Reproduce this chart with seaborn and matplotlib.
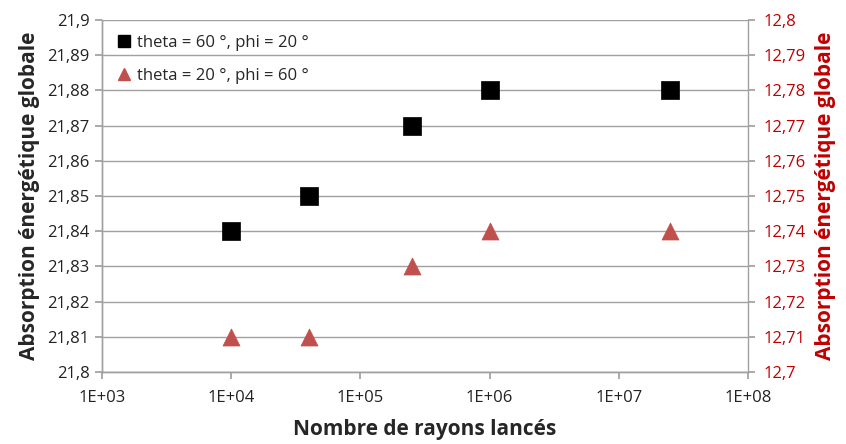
import matplotlib.pyplot as plt
import matplotlib.ticker as mticker
import pandas as pd
import seaborn as sns

# Données
nb_rayons = [1e4, 4e4, 2.5e5, 1e6, 2.5e7]
absorption_t60 = [21.84, 21.85, 21.87, 21.88, 21.88]
absorption_t20 = [12.71, 12.71, 12.73, 12.74, 12.74]

label_t60 = "theta = 60 °, phi = 20 °"
label_t20 = "theta = 20 °, phi = 60 °"
x_ticks = [1e3, 1e4, 1e5, 1e6, 1e7, 1e8]
x_tick_labels = ["1E+03", "1E+04", "1E+05", "1E+06", "1E+07", "1E+08"]

GRIS = "#a0a0a0"
ROUGE_TXT = "#c00000"
ROUGE_PT = "#c0504d"

sns.set_theme(style="white")
plt.rcParams["font.family"] = ["Open Sans", "DejaVu Sans"]

df_t60 = pd.DataFrame({"x": nb_rayons, "y": absorption_t60})
df_t20 = pd.DataFrame({"x": nb_rayons, "y": absorption_t20})

fig = plt.figure(figsize=(8.46, 4.44), dpi=100)
ax = fig.add_axes([0.1206, 0.162, 0.7636, 0.793])
ax2 = ax.twinx()

sns.scatterplot(data=df_t60, x="x", y="y", ax=ax, marker="s", s=150,
                color="black", edgecolor="black", linewidth=0.5, zorder=3)
sns.scatterplot(data=df_t20, x="x", y="y", ax=ax2, marker="^", s=150,
                color=ROUGE_PT, edgecolor=ROUGE_PT, linewidth=0.5, zorder=3)

ax.set_xscale("log")
ax.set_xlim(1e3, 1e8)
ax.set_xticks(x_ticks)
ax.set_xticklabels(x_tick_labels)
ax.xaxis.set_minor_locator(mticker.NullLocator())

ax.set_ylim(21.8, 21.9)
ax2.set_ylim(12.7, 12.8)
ticks_g = [21.8 + 0.01 * i for i in range(11)]
ticks_d = [12.7 + 0.01 * i for i in range(11)]
ax.set_yticks(ticks_g)
ax2.set_yticks(ticks_d)


def virgule(v, _pos):
    return f"{v:.2f}".rstrip("0").rstrip(".").replace(".", ",")


ax.yaxis.set_major_formatter(mticker.FuncFormatter(virgule))
ax2.yaxis.set_major_formatter(mticker.FuncFormatter(virgule))

ax.grid(True, axis="y", color=GRIS, linewidth=1)
ax.set_axisbelow(True)

for a in (ax, ax2):
    a.spines["top"].set_visible(False)
    for side in ("left", "right", "bottom"):
        a.spines[side].set_color(GRIS)
        a.spines[side].set_linewidth(1)
ax.spines["right"].set_visible(False)

ax.tick_params(axis="both", which="major", direction="out", length=5,
               color=GRIS, labelsize=12, labelcolor="#222222", pad=4)
ax.tick_params(axis="y", left=True)
ax.tick_params(axis="x", bottom=True, pad=8)
ax2.tick_params(axis="y", direction="out", length=5, color=GRIS,
                labelsize=12, labelcolor=ROUGE_TXT, right=True, pad=6)

ax.set_xlabel("Nombre de rayons lancés", fontsize=15, fontweight="bold",
              labelpad=9)
ax.set_ylabel("Absorption énergétique globale", fontsize=15,
              fontweight="bold", labelpad=5)
ax2.set_ylabel("Absorption énergétique globale", fontsize=15,
               fontweight="bold", color=ROUGE_TXT, labelpad=7)

handles = [
    plt.Line2D([], [], marker="s", linestyle="none", color="black",
               markersize=9, label=label_t60),
    plt.Line2D([], [], marker="^", linestyle="none", color=ROUGE_PT,
               markersize=9, label=label_t20),
]
ax.legend(handles=handles, loc="upper left", frameon=False, fontsize=12,
          handletextpad=0.0, labelspacing=1.0, borderaxespad=0.5,
          handlelength=1.6, bbox_to_anchor=(-0.01, 1.0))

fig.savefig("out.png", dpi=100)
